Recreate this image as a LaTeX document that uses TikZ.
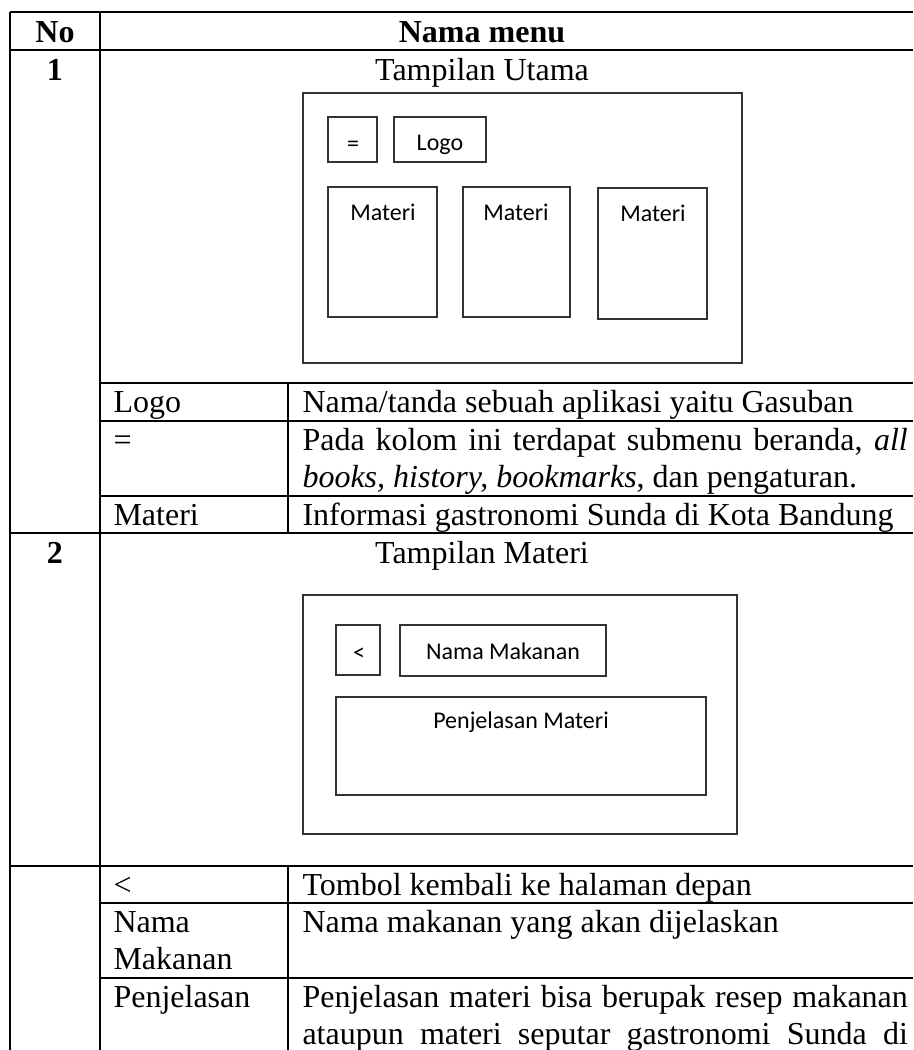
\documentclass[tikz,border=0pt]{standalone}
\usepackage{fontspec}
\setmainfont{Liberation Serif}
\newfontfamily\mockfont{Carlito}
\usetikzlibrary{positioning}

\begin{document}
\begin{tikzpicture}
[x=0.375pt, y=-0.375pt,
 tabline/.style={line width=0.75pt, black},
 mockline/.style={line width=0.45pt, black!80},
 celltext/.style={inner sep=0pt, anchor=base west, font=\fontsize{12}{14}\selectfont},
 midtext/.style={celltext, anchor=base},
 headtext/.style={midtext, font=\fontsize{12}{14}\selectfont\bfseries},
 mocktext/.style={inner sep=0pt, anchor=base, font=\mockfont\fontsize{9}{11}\selectfont}
]
\useasboundingbox (0,0) rectangle (913,1050);

% table rules
\draw[tabline] (10,12) -- (913,12);
\draw[tabline] (10,50) -- (913,50);
\draw[tabline] (10,12) -- (10,1050);
\draw[tabline] (100,12) -- (100,1050);
\draw[tabline] (100,383) -- (913,383);
\draw[tabline] (100,421) -- (913,421);
\draw[tabline] (100,496) -- (913,496);
\draw[tabline] (288,383) -- (288,533);
\draw[tabline] (10,533) -- (913,533);
\draw[tabline] (10,866) -- (913,866);
\draw[tabline] (100,903) -- (913,903);
\draw[tabline] (100,978) -- (913,978);
\draw[tabline] (288,866) -- (288,1050);

% header
\node[headtext] (no) at (55,42) {No};
\node[headtext] (namamenu) at (482,42) {Nama menu};

% row 1
\node[headtext] (one) at (55,80) {1};
\node[midtext] (utama) at (482,80) {Tampilan Utama};

\draw[mockline] (303,93) rectangle (742,363);
\draw[mockline] (328,117) rectangle (377,162);
\draw[mockline] (394,117) rectangle (486,162);
\draw[mockline] (328,187) rectangle (437,317);
\draw[mockline] (463,187) rectangle (570,317);
\draw[mockline] (598,188) rectangle (707,319);
\node[mocktext] (menubtn) at (353,151) {=};
\node[mocktext] (logobtn) at (440,150) {Logo};
\node[mocktext] (materia) at (383,220) {Materi};
\node[mocktext] (materib) at (516,220) {Materi};
\node[mocktext] (materic) at (653,221.5) {Materi};

\node[celltext] (klogo) at (113,412) {Logo};
\node[celltext] (dlogo) at (302,412) {Nama/tanda sebuah aplikasi yaitu Gasuban};
\node[celltext] (kmenu) at (113,450) {=};
\node[celltext] (dmenua) at (302,450) {\makebox[227pt][s]{Pada kolom ini terdapat submenu beranda, \textit{all}}};
\node[celltext] (dmenub) at (302,487.5) {\textit{books, history, bookmarks}, dan pengaturan.};
\node[celltext] (kmateri) at (113,525) {Materi};
\node[celltext] (dmateri) at (302,525) {Informasi gastronomi Sunda di Kota Bandung};

% row 2
\node[headtext] (two) at (55,563) {2};
\node[midtext] (tmateri) at (482,563) {Tampilan Materi};

\draw[mockline] (303,595) rectangle (737,834);
\draw[mockline] (336,625) rectangle (380,675);
\draw[mockline] (400,625) rectangle (606,676);
\draw[mockline] (336,697) rectangle (706,795);
\node[mocktext] (backbtn) at (359,660) {<};
\node[mocktext] (namabtn) at (503,659) {Nama Makanan};
\node[mocktext] (isibtn) at (521,728) {Penjelasan Materi};

\node[celltext] (kback) at (113,895) {<};
\node[celltext] (dback) at (302,895) {Tombol kembali ke halaman depan};
\node[celltext] (knamaa) at (113,932) {Nama};
\node[celltext] (knamab) at (113,969.5) {Makanan};
\node[celltext] (dnama) at (302,932) {Nama makanan yang akan dijelaskan};
\node[celltext] (kisi) at (113,1007) {Penjelasan};
\node[celltext] (disia) at (302,1007) {\makebox[227pt][s]{Penjelasan materi bisa berupak resep makanan}};
\node[celltext] (disib) at (302,1044.5) {\makebox[227pt][s]{ataupun materi seputar gastronomi Sunda di}};
\end{tikzpicture}
\end{document}
